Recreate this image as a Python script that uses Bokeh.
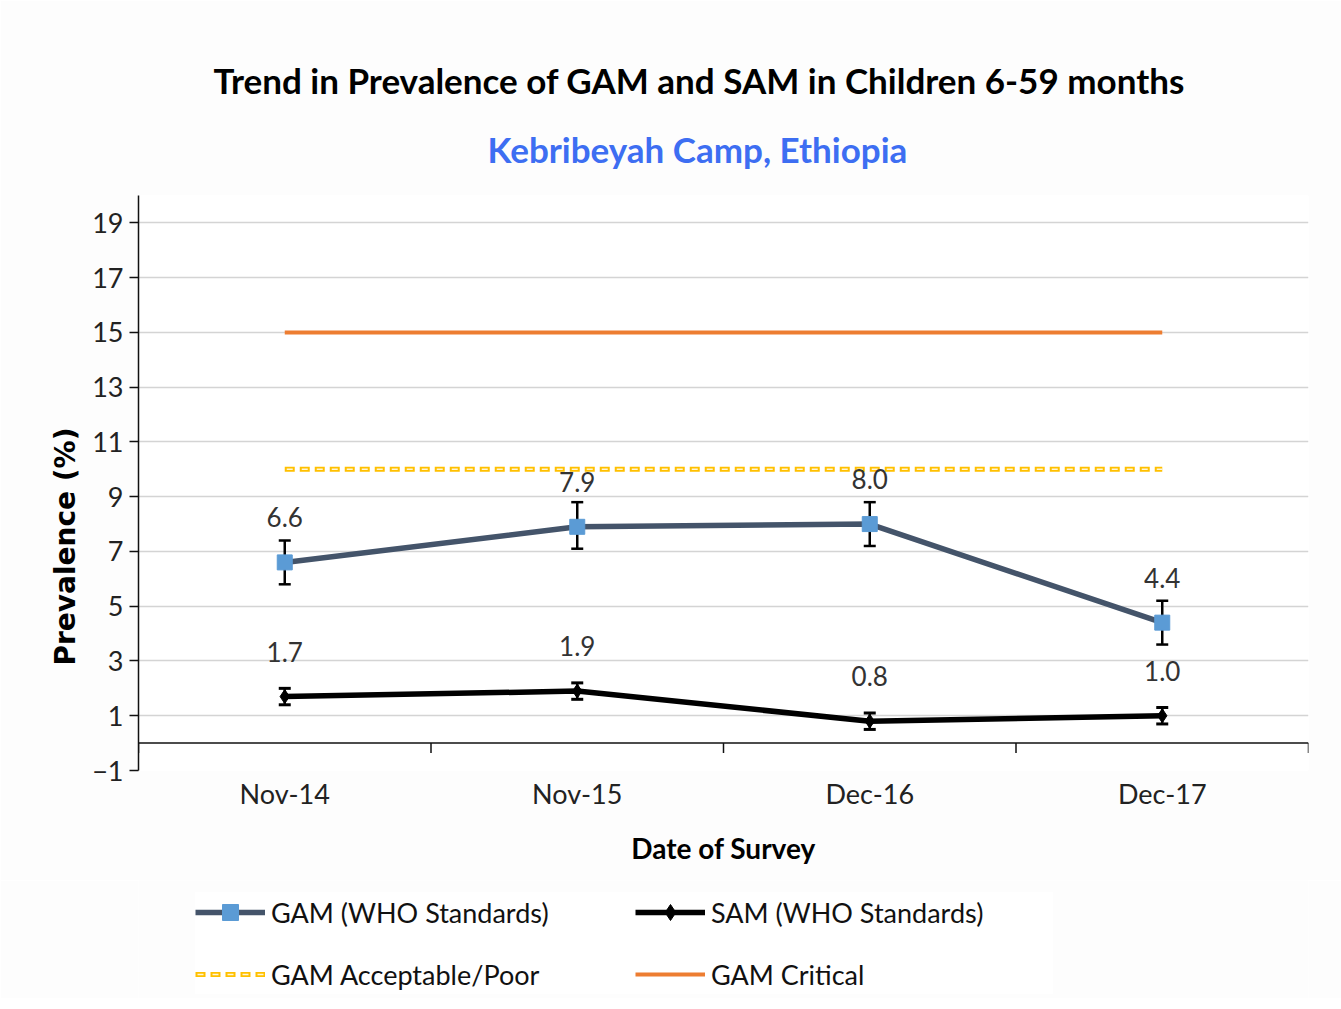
from bokeh.plotting import figure
from bokeh.layouts import column
from bokeh.models import (ColumnDataSource, Whisker, TeeHead, Span, Legend,
                          LegendItem, Title, FixedTicker)
from bokeh.transform import dodge
from bokeh.core.properties import value
from bokeh.embed import file_html
from bokeh.resources import INLINE

# ---- data ----
surveys = ["Nov-14", "Nov-15", "Dec-16", "Dec-17"]
gam = [6.6, 7.9, 8.0, 4.4]
gam_lower = [5.8, 7.1, 7.2, 3.6]
gam_upper = [7.4, 8.8, 8.8, 5.2]
sam = [1.7, 1.9, 0.8, 1.0]
sam_lower = [1.4, 1.6, 0.5, 0.7]
sam_upper = [2.0, 2.2, 1.1, 1.3]
gam_acceptable = [10, 10, 10, 10]
gam_critical = [15, 15, 15, 15]
y_ticks = [-1, 1, 3, 5, 7, 9, 11, 13, 15, 17, 19]
legend_labels = ["GAM (WHO Standards)", "SAM (WHO Standards)",
                 "GAM Acceptable/Poor", "GAM Critical"]

FONT = "Lato"
BG = "#fdfdfd"
GAM_LINE, GAM_MARK, ORANGE, YELLOW = "#44546a", "#5b9bd5", "#ed7d31", "#ffc000"

src = ColumnDataSource(dict(
    x=surveys, gam=gam, gam_lo=gam_lower, gam_hi=gam_upper,
    sam=sam, sam_lo=sam_lower, sam_hi=sam_upper,
    acc=gam_acceptable, crit=gam_critical,
    gam_txt=[f"{v:.1f}" for v in gam], sam_txt=[f"{v:.1f}" for v in sam],
))

p = figure(x_range=surveys, y_range=(-1, 20), frame_width=1170, frame_height=575,
           output_backend="svg", toolbar_location=None,
           min_border_left=138, min_border_right=33,
           min_border_top=195, min_border_bottom=110,
           background_fill_color="white", border_fill_color=BG)
p.outline_line_color = None

# titles
p.title.text = "Trend in Prevalence of GAM and SAM in Children 6-59 months"
p.title.text_color = "black"
p.title.text_font = FONT
p.title.text_font_size = "35px"
p.title.text_font_style = "bold"
p.title.align = "left"
p.title.offset = 75
p.title.standoff = 0
p.add_layout(Title(text="Kebribeyah Camp, Ethiopia",
                   text_font=FONT, text_font_size="35px", text_font_style="bold",
                   text_color="#3d6ef2", align="left", offset=349, standoff=51,
                   text_line_height=0.8), "above")

# axes
p.yaxis.ticker = FixedTicker(ticks=y_ticks)
p.ygrid.ticker = FixedTicker(ticks=y_ticks)
p.ygrid.grid_line_color = "#d4d4d4"
p.ygrid.grid_line_width = 1.5
p.xgrid.grid_line_color = None
p.yaxis.minor_tick_line_color = None
p.yaxis.major_tick_out = 9
p.yaxis.major_tick_in = 0
p.yaxis.axis_line_color = "#111111"
p.yaxis.axis_line_width = 1.5
p.yaxis.major_tick_line_width = 1.5
p.yaxis.major_tick_line_color = "#111111"
p.yaxis.major_label_text_font = FONT
p.yaxis.major_label_text_font_size = "27px"
p.yaxis.major_label_text_color = "#222222"
p.yaxis.major_label_standoff = 6

p.xaxis.axis_line_color = None
p.xaxis.major_tick_line_color = None
p.xaxis.major_label_text_font = FONT
p.xaxis.major_label_text_font_size = "27px"
p.xaxis.major_label_text_color = "#222222"
p.xaxis.major_label_standoff = 0
p.xaxis.axis_label = "Date of Survey"
p.xaxis.axis_label_text_font = FONT
p.xaxis.axis_label_text_font_size = "28px"
p.xaxis.axis_label_text_font_style = "bold"
p.xaxis.axis_label_text_color = "black"
p.xaxis.axis_label_standoff = 18

p.add_layout(Title(text="Prevalence (%)", text_font="DejaVu Sans", text_font_size="28px",
                   text_font_style="bold", text_color="black", align="left",
                   offset=105, standoff=15), "left")

# baseline at zero with category boundary ticks
p.add_layout(Span(location=0, dimension="width", line_color="#111111", line_width=1.5))
p.segment(x0=dodge("x", -0.5, range=p.x_range), x1=dodge("x", -0.5, range=p.x_range),
          y0=0, y1=-0.36, source=src, line_color="#111111", line_width=1.5)
last = ColumnDataSource(dict(x=surveys[-1:]))
p.segment(x0=dodge("x", 0.5, range=p.x_range), x1=dodge("x", 0.5, range=p.x_range),
          y0=0, y1=-0.36, source=last, line_color="#111111", line_width=1.5)

# thresholds
p.line("x", "crit", source=src, line_color=ORANGE, line_width=4)
p.line("x", "acc", source=src, line_color=YELLOW, line_width=5, line_dash="10 5")
p.line("x", "acc", source=src, line_color="#fff6d8", line_width=1.6, line_dash="0 2 6 7")

# GAM
p.line("x", "gam", source=src, line_color=GAM_LINE, line_width=5.5)
p.add_layout(Whisker(source=src, base="x", lower="gam_lo", upper="gam_hi",
                     dimension="height", line_color="black", line_width=2.5,
                     upper_head=TeeHead(size=12, line_width=2.5, line_color="black"),
                     lower_head=TeeHead(size=12, line_width=2.5, line_color="black")))
p.scatter("x", "gam", source=src, marker="square", size=15,
          fill_color=GAM_MARK, line_color=GAM_MARK)

# SAM
p.line("x", "sam", source=src, line_color="black", line_width=5.5)
p.add_layout(Whisker(source=src, base="x", lower="sam_lo", upper="sam_hi",
                     dimension="height", line_color="black", line_width=2.5,
                     upper_head=TeeHead(size=12, line_width=3, line_color="black"),
                     lower_head=TeeHead(size=12, line_width=3, line_color="black")))
p.scatter("x", "sam", source=src, marker="diamond", size=14,
          fill_color="black", line_color="black")

# data labels
for col, txt in (("gam", "gam_txt"), ("sam", "sam_txt")):
    p.text("x", col, text=txt, source=src, y_offset=-45, text_align="center",
           text_baseline="middle", text_font=value(FONT), text_font_size="26px",
           text_color="#333333")

# ---- legend strip (own small figure below the chart) ----
lf = figure(width=1341, height=118, output_backend="svg", toolbar_location=None,
            x_axis_type=None, y_axis_type=None, x_range=(0, 1), y_range=(0, 1),
            min_border=0, background_fill_color=BG, border_fill_color=BG)
lf.outline_line_color = None
lf.grid.grid_line_color = None
proxy = ColumnDataSource(dict(x=[-5], y=[-5]))   # legend proxies, outside the view
g1 = lf.line("x", "y", source=proxy, line_color=GAM_LINE, line_width=5.5)
g2 = lf.scatter("x", "y", source=proxy, marker="square", size=15,
                fill_color=GAM_MARK, line_color=GAM_MARK)
s1 = lf.line("x", "y", source=proxy, line_color="black", line_width=5.5)
s2 = lf.scatter("x", "y", source=proxy, marker="diamond", size=16,
                fill_color="black", line_color="black")
a1 = lf.line("x", "y", source=proxy, line_color=YELLOW, line_width=5, line_dash="10 5")
a2 = lf.line("x", "y", source=proxy, line_color="#fff6d8", line_width=1.6,
             line_dash="0 2 6 7")
c1 = lf.line("x", "y", source=proxy, line_color=ORANGE, line_width=4)

legend = Legend(items=[
    LegendItem(label=legend_labels[0], renderers=[g1, g2]),
    LegendItem(label=legend_labels[1], renderers=[s1, s2]),
    LegendItem(label=legend_labels[2], renderers=[a1, a2]),
    LegendItem(label=legend_labels[3], renderers=[c1]),
], orientation="horizontal", ncols=2, location=(57, 4),
    label_text_font=FONT, label_text_font_size="27px", label_text_color="#111111",
    glyph_width=70, glyph_height=40, label_height=40, label_width=342,
    label_standoff=6, spacing=22, padding=10, margin=0,
    background_fill_color="white", border_line_color=None)
lf.add_layout(legend, "center")

layout = column(p, lf, spacing=0)
open("out.html", "w").write(file_html(layout, INLINE))
